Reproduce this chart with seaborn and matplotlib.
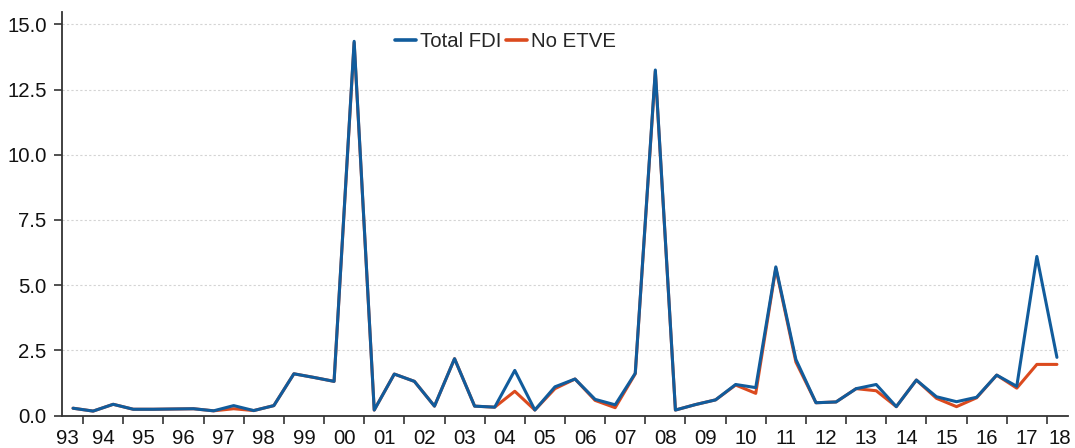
import matplotlib
matplotlib.use("Agg")
import numpy as np
import pandas as pd
import matplotlib.pyplot as plt
import seaborn as sns

# ---- data (half-yearly, 1993 H2 .. 2018 H1) ----
year_labels = ["93", "94", "95", "96", "97", "98", "99", "00", "01", "02", "03", "04", "05",
               "06", "07", "08", "09", "10", "11", "12", "13", "14", "15", "16", "17", "18"]
first_year = 1993
total_fdi = [0.28, 0.17, 0.43, 0.24, 0.24, 0.25, 0.26, 0.18, 0.38, 0.19,
             0.38, 1.60, 1.46, 1.31, 14.35, 0.21, 1.59, 1.31, 0.36, 2.18,
             0.36, 0.32, 1.73, 0.21, 1.10, 1.40, 0.62, 0.41, 1.62, 13.25,
             0.21, 0.42, 0.60, 1.19, 1.07, 5.70, 2.15, 0.49, 0.52, 1.03,
             1.19, 0.34, 1.36, 0.72, 0.53, 0.70, 1.55, 1.12, 6.10, 2.23]
no_etve = [0.28, 0.17, 0.43, 0.24, 0.24, 0.25, 0.26, 0.18, 0.26, 0.19,
           0.38, 1.60, 1.46, 1.31, 14.30, 0.21, 1.59, 1.31, 0.36, 2.18,
           0.36, 0.32, 0.93, 0.21, 1.03, 1.40, 0.58, 0.30, 1.60, 13.20,
           0.21, 0.42, 0.60, 1.17, 0.85, 5.65, 2.05, 0.49, 0.52, 1.03,
           0.95, 0.34, 1.36, 0.66, 0.34, 0.68, 1.55, 1.05, 1.96, 1.96]
series_names = ["Total FDI", "No ETVE"]
colors = {"Total FDI": "#115C9C", "No ETVE": "#DB4A1E"}

# period positions: first period is the 2nd half of 1993
t = [first_year + 0.75 + 0.5 * i for i in range(len(total_fdi))]
df = pd.DataFrame({"t": t + t,
                   "value": total_fdi + no_etve,
                   "series": ["Total FDI"] * len(t) + ["No ETVE"] * len(t)})

sns.set_theme(style="white")
plt.rcParams["font.family"] = ["Liberation Sans", "DejaVu Sans"]

fig = plt.figure(figsize=(10.75, 4.48), dpi=100)
ax = fig.add_axes([0.0577, 0.0725, 0.9358, 0.9005])

# draw No ETVE first so Total FDI lies on top
sns.lineplot(data=df[df.series == "No ETVE"], x="t", y="value", color=colors["No ETVE"],
             lw=2.2, ax=ax, label="No ETVE", zorder=3)
sns.lineplot(data=df[df.series == "Total FDI"], x="t", y="value", color=colors["Total FDI"],
             lw=2.2, ax=ax, label="Total FDI", zorder=4)

ax.set_xlim(1993.476, 2018.526)
ax.set_ylim(0, 15.47)
ax.set_xlabel("")
ax.set_ylabel("")

fs = 14.7

# y axis
yt = np.arange(0, 15.01, 2.5)
ax.set_yticks(yt)
ax.set_yticklabels([f"{v:.1f}" for v in yt])
ax.yaxis.grid(True, linestyle=(0, (2, 2)), color="#d4d4d4", linewidth=0.8)
ax.xaxis.grid(False)

# x axis: labels at year centres, tick marks at year boundaries
lab_pos = [first_year + k + 0.5 for k in range(len(year_labels))]
lab_pos[0] = first_year + 0.61
lab_pos[-1] = first_year + len(year_labels) - 1 + 0.33
ax.set_xticks(lab_pos)
ax.set_xticklabels(year_labels)
ax.set_xticks([first_year + k for k in range(1, len(year_labels))], minor=True)
ax.tick_params(axis="x", which="major", length=0, pad=10, labelsize=fs, colors="#111111")
ax.tick_params(axis="x", which="minor", length=6, width=1.2, color="#333333", bottom=True)
ax.tick_params(axis="y", which="major", length=6, width=1.2, color="#333333", left=True,
               pad=5, labelsize=fs, labelcolor="#111111")

for s in ["top", "right"]:
    ax.spines[s].set_visible(False)
for s in ["left", "bottom"]:
    ax.spines[s].set_color("#333333")
    ax.spines[s].set_linewidth(1.3)

h, l = ax.get_legend_handles_labels()
order = [l.index(n) for n in series_names]
leg = ax.legend([h[i] for i in order], [l[i] for i in order], loc="center",
                bbox_to_anchor=(0.441, 0.926), ncol=2, frameon=False, fontsize=fs,
                handlelength=1.0, handletextpad=0.2, columnspacing=0.25)
for ln in leg.get_lines():
    ln.set_linewidth(2.6)

fig.savefig("out.png", dpi=100)
